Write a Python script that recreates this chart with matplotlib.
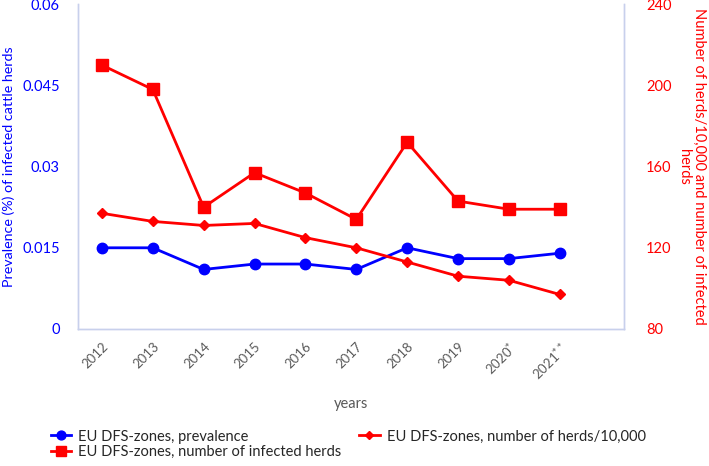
import matplotlib
matplotlib.use("Agg")
import matplotlib.pyplot as plt

plt.rcParams['font.family'] = ['Lato', 'DejaVu Sans']

years = ["2012", "2013", "2014", "2015", "2016", "2017", "2018", "2019", "2020$^{*}$", "2021$^{**}$"]
prevalence = [0.015, 0.015, 0.011, 0.012, 0.012, 0.011, 0.015, 0.013, 0.013, 0.014]
herds_per_10000 = [137, 133, 131, 132, 125, 120, 113, 106, 104, 97]
infected_herds = [210, 198, 140, 157, 147, 134, 172, 143, 139, 139]

left_ticks = [0, 0.015, 0.03, 0.045, 0.06]
left_tick_labels = ["0", "0.015", "0.03", "0.045", "0.06"]
right_ticks = [80, 120, 160, 200, 240]

fig = plt.figure(figsize=(7.09, 4.66), dpi=100)
ax = fig.add_axes([0.110, 0.294, 0.770, 0.697])
ax2 = ax.twinx()

x = list(range(len(years)))
blue = "#0000ff"
red = "#ff0000"
spine_c = "#c8d0ec"

l1, = ax.plot(x, prevalence, color=blue, lw=2, marker='o', ms=7.5, zorder=3,
              label="EU DFS-zones, prevalence")
l2, = ax2.plot(x, herds_per_10000, color=red, lw=2, marker='D', ms=5, zorder=3,
               label="EU DFS-zones, number of herds/10,000")
l3, = ax2.plot(x, infected_herds, color=red, lw=2, marker='s', ms=8, zorder=3,
               label="EU DFS-zones, number of infected herds")

ax.set_xlim(-0.47, 10.26)
ax.set_ylim(0, 0.06)
ax2.set_ylim(80, 240)
ax.set_yticks(left_ticks)
ax.set_yticklabels(left_tick_labels)
ax2.set_yticks(right_ticks)
ax.set_xticks(x)
ax.set_xticklabels(years, rotation=45, ha='right', rotation_mode='anchor')

for a in (ax, ax2):
    a.spines['top'].set_visible(False)
    for s in ('left', 'right', 'bottom'):
        a.spines[s].set_color(spine_c)
        a.spines[s].set_linewidth(1)
    a.tick_params(length=0)

ax.tick_params(axis='y', colors=blue, labelsize=10.5, pad=13)
ax2.tick_params(axis='y', colors=red, labelsize=10.5, pad=16)
ax.tick_params(axis='x', colors="#595959", labelsize=9.5, pad=8)

ax.set_ylabel("Prevalence (%) of infected cattle herds", color=blue, fontsize=10.3)
ax.yaxis.set_label_coords(-0.116, 0.5)
ax2.set_ylabel("Number of herds/10,000 and number of infected\nherds", color=red,
               fontsize=10.5, rotation=270, linespacing=1.05, va='center')
ax2.yaxis.set_label_coords(1.124, 0.5)
ax.set_xlabel("years", color="#595959", fontsize=10.5, labelpad=10)

handles = [l1, l3, l2]
leg = fig.legend(handles, [h.get_label() for h in handles], loc='lower left',
                 bbox_to_anchor=(0.055, -0.01), ncol=2, frameon=False, fontsize=10.5,
                 columnspacing=1.2, handlelength=1.4, handletextpad=0.5, labelspacing=0.1,
                 borderpad=0.3, markerscale=0.85)
for t in leg.get_texts():
    t.set_color("#262626")

fig.savefig("out.png", dpi=100)
